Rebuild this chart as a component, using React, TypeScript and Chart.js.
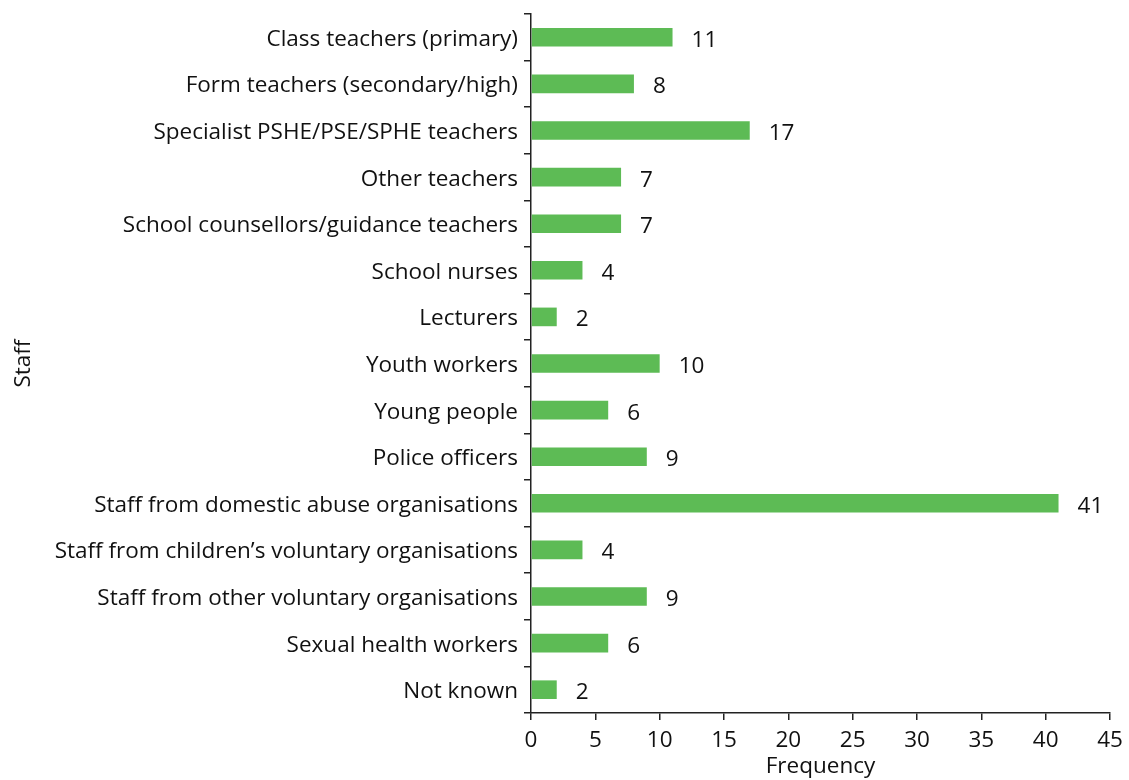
import React, { useEffect, useRef } from "react";
import { Chart, registerables } from "chart.js";

Chart.register(...registerables);

const categories = [
  "Class teachers (primary)",
  "Form teachers (secondary/high)",
  "Specialist PSHE/PSE/SPHE teachers",
  "Other teachers",
  "School counsellors/guidance teachers",
  "School nurses",
  "Lecturers",
  "Youth workers",
  "Young people",
  "Police officers",
  "Staff from domestic abuse organisations",
  "Staff from children\u2019s voluntary organisations",
  "Staff from other voluntary organisations",
  "Sexual health workers",
  "Not known",
];

const frequencies = [11, 8, 17, 7, 7, 4, 2, 10, 6, 9, 41, 4, 9, 6, 2];

const xTicks = [0, 5, 10, 15, 20, 25, 30, 35, 40, 45];

const FONT = "'Open Sans', 'Noto Sans', sans-serif";
const FS = 22.5;

const valueLabels = {
  id: "valueLabels",
  afterDatasetsDraw(chart: any) {
    const ctx = chart.ctx;
    const meta = chart.getDatasetMeta(0);
    ctx.save();
    ctx.font = `${FS}px ${FONT}`;
    ctx.fillStyle = "#111";
    ctx.textAlign = "left";
    ctx.textBaseline = "middle";
    meta.data.forEach((bar: any, i: number) => {
      ctx.fillText(String(frequencies[i]), bar.x + 19, bar.y + 3);
    });
    ctx.restore();
  },
};

export default function App() {
  const ref = useRef<HTMLCanvasElement | null>(null);

  useEffect(() => {
    if (!ref.current) return;
    const chart = new Chart(ref.current, {
      type: "bar",
      data: {
        labels: categories,
        datasets: [
          {
            data: frequencies,
            backgroundColor: "#5dbb55",
            borderWidth: 0,
            barPercentage: 0.8,
            categoryPercentage: 0.5,
          },
        ],
      },
      options: {
        indexAxis: "y",
        animation: false,
        responsive: true,
        maintainAspectRatio: false,
        layout: { padding: { top: 14, right: 19, left: 0, bottom: 0 } },
        plugins: {
          legend: { display: false },
          tooltip: { enabled: false },
        },
        scales: {
          x: {
            type: "linear",
            min: 0,
            max: 45,
            afterBuildTicks: (axis: any) => {
              axis.ticks = xTicks.map((v) => ({ value: v }));
            },
            afterFit: (axis: any) => {
              axis.height = 67;
              axis.paddingLeft = 0;
              axis.paddingRight = 0;
            },
            grid: {
              drawOnChartArea: false,
              drawTicks: true,
              tickLength: 7,
              color: "#222",
              lineWidth: 1.5,
            },
            border: { display: true, color: "#222", width: 1.5 },
            ticks: {
              color: "#111",
              font: { family: FONT, size: FS },
              padding: 7,
            },
            title: {
              display: true,
              text: "Frequency",
              color: "#111",
              font: { family: FONT, size: FS },
              padding: { top: 0, bottom: 0 },
            },
          },
          y: {
            afterFit: (axis: any) => {
              axis.width = 531;
              axis.paddingTop = 0;
              axis.paddingBottom = 0;
            },
            grid: {
              offset: true,
              drawOnChartArea: false,
              drawTicks: true,
              tickLength: 7,
              color: "#222",
              lineWidth: 1.5,
            },
            border: { display: true, color: "#222", width: 1.5 },
            ticks: {
              color: "#111",
              font: { family: FONT, size: FS },
              padding: 6,
              labelOffset: 2,
              autoSkip: false,
            },
            title: {
              display: true,
              text: "Staff",
              color: "#111",
              font: { family: FONT, size: FS },
              padding: { top: 10, bottom: 0 },
            },
          },
        },
      },
      plugins: [valueLabels],
    });
    return () => chart.destroy();
  }, []);

  return (
    <div style={{ position: "fixed", left: 0, top: 0, width: 1129, height: 780, background: "#fff" }}>
      <canvas ref={ref} />
    </div>
  );
}
